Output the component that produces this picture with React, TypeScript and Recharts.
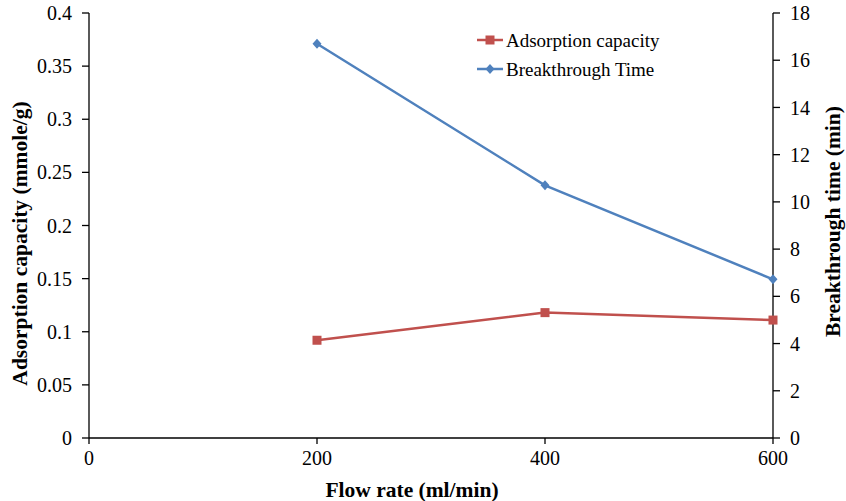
import React from "react";
import { Line, LineChart, XAxis, YAxis } from "recharts";

const flowRates = [200, 400, 600];
const adsorptionCapacity = [0.092, 0.118, 0.111];
const breakthroughTime = [16.7, 10.7, 6.72];
const xTicks = [0, 200, 400, 600];
const leftTicks = [0, 0.05, 0.1, 0.15, 0.2, 0.25, 0.3, 0.35, 0.4];
const rightTicks = [0, 2, 4, 6, 8, 10, 12, 14, 16, 18];

const RED = "#C0504D";
const BLUE = "#4F81BD";
const FONT = '"Times New Roman", "Liberation Serif", "DejaVu Serif", serif';

const data = flowRates.map((x, i) => ({
  x,
  capacity: adsorptionCapacity[i],
  time: breakthroughTime[i],
}));

const SquareDot = (props: any) => {
  const { cx, cy } = props;
  if (cx == null || cy == null) return null;
  return <rect x={cx - 4.5} y={cy - 4.5} width={9} height={9} fill={RED} />;
};

const DiamondDot = (props: any) => {
  const { cx, cy } = props;
  if (cx == null || cy == null) return null;
  return (
    <path
      d={`M${cx},${cy - 5} L${cx + 4.5},${cy} L${cx},${cy + 5} L${cx - 4.5},${cy} Z`}
      fill={BLUE}
    />
  );
};

const legendItems = [
  { name: "Adsorption capacity", color: RED, square: true },
  { name: "Breakthrough Time", color: BLUE, square: false },
];

const LegendBox = () => (
  <div
    style={{
      position: "absolute",
      left: 477,
      top: 25.5,
      fontFamily: FONT,
      fontSize: 19,
      color: "#000",
      lineHeight: "29px",
    }}
  >
    {legendItems.map((it) => (
      <div key={it.name} style={{ display: "flex", alignItems: "center" }}>
        <svg width={27} height={12} style={{ marginRight: 2 }}>
          <line x1={0} y1={6} x2={26} y2={6} stroke={it.color} strokeWidth={2.5} />
          {it.square ? (
            <rect x={8.5} y={1.5} width={9} height={9} fill={it.color} />
          ) : (
            <path d="M13,1 L17.5,6 L13,11 L8.5,6 Z" fill={it.color} />
          )}
        </svg>
        <span>{it.name}</span>
      </div>
    ))}
  </div>
);

const tickStyle = { fontFamily: FONT, fontSize: 20, fill: "#000" };
const labelStyle = { fontFamily: FONT, fontSize: 21.5, fontWeight: "bold", fill: "#000" };

export default function App() {
  return (
    <div style={{ position: "absolute", left: 0, top: 0, width: 846, height: 501, background: "#fff", fontFamily: FONT }}>
      <LineChart
        width={846}
        height={501}
        data={data}
        margin={{ top: 13, right: 0, bottom: 0, left: 0 }}
        style={{ fontFamily: FONT }}
      >
        <XAxis
          dataKey="x"
          type="number"
          domain={[0, 600]}
          ticks={xTicks}
          height={63}
          tick={tickStyle}
          tickSize={6}
          tickMargin={7}
          stroke="#000"
          axisLine={{ stroke: "#000", strokeWidth: 1.3 }}
          tickLine={{ stroke: "#000", strokeWidth: 1.3 }}
          label={{ value: "Flow rate (ml/min)", position: "center", dx: -19, dy: 20, style: labelStyle }}
        />
        <YAxis
          yAxisId="left"
          domain={[0, 0.4]}
          ticks={leftTicks}
          width={89}
          tick={tickStyle}
          tickSize={7}
          tickMargin={10}
          stroke="#000"
          axisLine={{ stroke: "#000", strokeWidth: 1.3 }}
          tickLine={{ stroke: "#000", strokeWidth: 1.3 }}
          label={{ value: "Adsorption capacity (mmole/g)", angle: -90, position: "center", dx: -25, dy: 18, style: labelStyle }}
        />
        <YAxis
          yAxisId="right"
          orientation="right"
          domain={[0, 18]}
          ticks={rightTicks}
          width={73}
          tick={tickStyle}
          tickSize={7}
          tickMargin={10}
          stroke="#000"
          axisLine={{ stroke: "#000", strokeWidth: 1.3 }}
          tickLine={{ stroke: "#000", strokeWidth: 1.3 }}
          label={{ value: "Breakthrough time (min)", angle: -90, position: "center", dx: 23, dy: -4, style: labelStyle }}
        />
        <Line
          yAxisId="left"
          dataKey="capacity"
          name="Adsorption capacity"
          stroke={RED}
          strokeWidth={2.5}
          dot={<SquareDot />}
          activeDot={false}
          isAnimationActive={false}
        />
        <Line
          yAxisId="right"
          dataKey="time"
          name="Breakthrough Time"
          stroke={BLUE}
          strokeWidth={2.5}
          dot={<DiamondDot />}
          activeDot={false}
          isAnimationActive={false}
        />
      </LineChart>
      <LegendBox />
    </div>
  );
}
